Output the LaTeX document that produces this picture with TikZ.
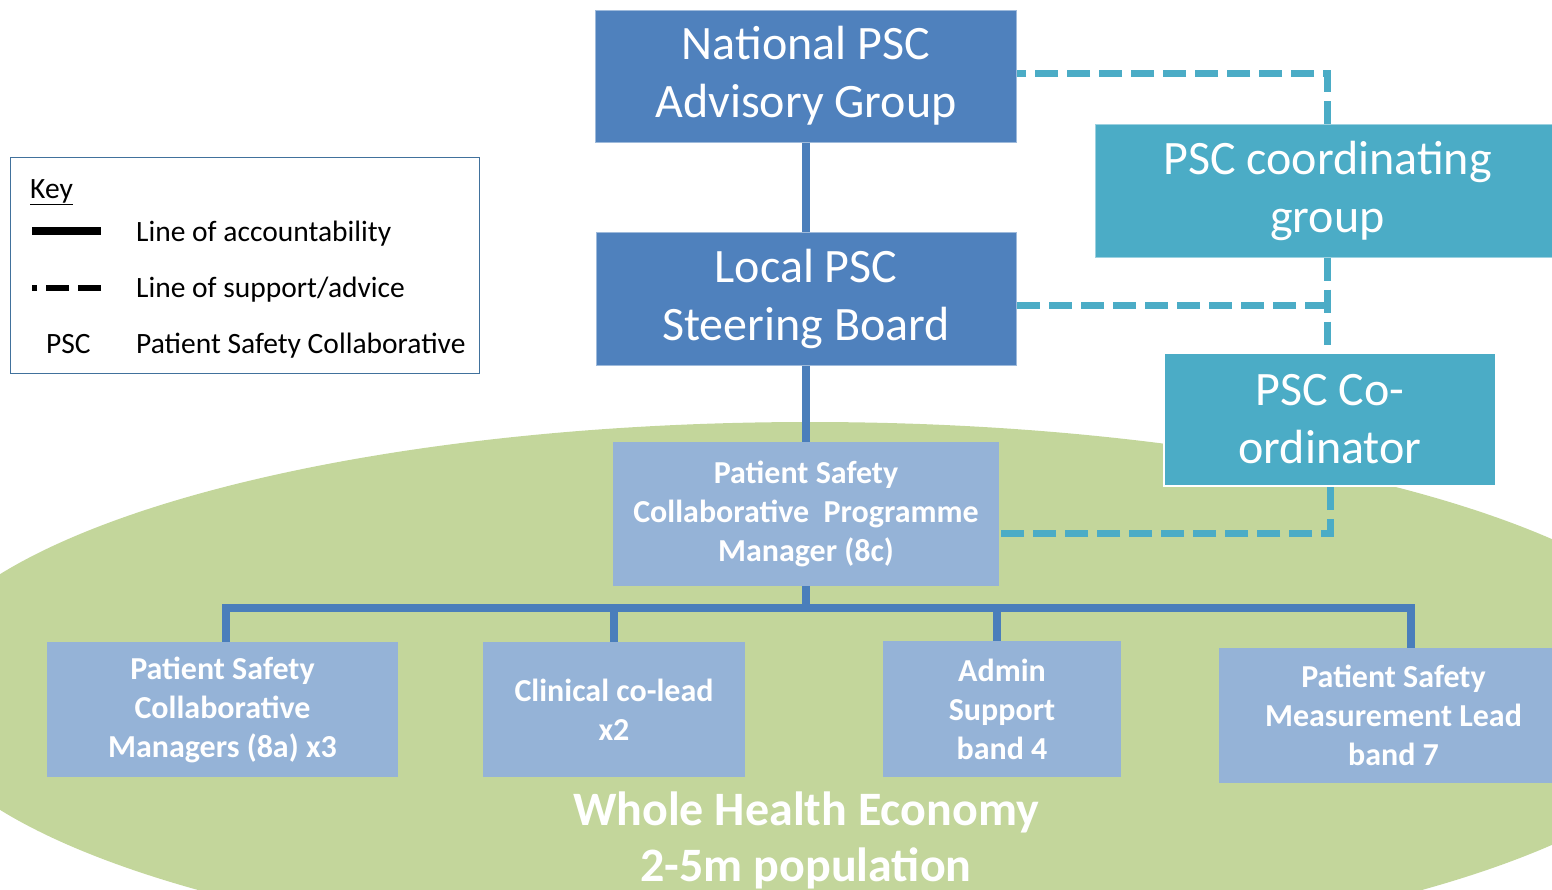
\documentclass[tikz,border=0pt]{standalone}
\usepackage{fontspec}
\setmainfont{Carlito}
\usetikzlibrary{positioning}

\definecolor{boardblue}{HTML}{4F81BD}
\definecolor{supportteal}{HTML}{4BACC6}
\definecolor{staffblue}{HTML}{95B3D7}
\definecolor{economygreen}{HTML}{C3D69B}
\definecolor{linkblue}{HTML}{4A7EBB}
\definecolor{keyframe}{HTML}{41719C}

\tikzset{
  board/.style={fill=boardblue, draw=boardblue!55, line width=1pt, text=white,
    align=center, inner sep=0pt, font=\fontsize{48}{58}\selectfont},
  coordbox/.style={board, fill=supportteal, draw=supportteal!55},
  staff/.style={fill=staffblue, text=white, align=center, inner sep=0pt,
    font=\bfseries\fontsize{32}{39}\selectfont},
  acct/.style={draw=linkblue, line width=7.5pt},
  support/.style={draw=supportteal, line width=7pt, dash pattern=on 23pt off 9pt},
  keytext/.style={anchor=base west, inner sep=0pt, font=\fontsize{29.5}{35}\selectfont},
}

\begin{document}
\begin{tikzpicture}[x=1pt, y=-1pt]
\clip (0,0) rectangle (1552,889);

% health economy
\fill[economygreen] (810,692) ellipse [x radius=900pt, y radius=270pt];

% boards
\node[board, minimum width=421pt, minimum height=132pt] (natl) at (806,76) {National PSC\\Advisory Group};
\node[board, minimum width=420pt, minimum height=133pt] (local) at (806,298.5) {Local PSC\\Steering Board};
\node[coordbox, minimum width=465pt, minimum height=133pt] (coord) at (1327.5,190.5) {PSC coordinating\\group};
\node[coordbox, draw=white, line width=2pt, minimum width=332pt, minimum height=133pt] (coordr) at (1330,419.5) {PSC Co-\\ordinator};

% programme team
\node[staff, minimum width=386pt, minimum height=144pt] (pm) at (806,514) {Patient Safety\\Collaborative~~Programme\\Manager (8c)};
\node[staff, minimum width=351pt, minimum height=135pt] (mgrs) at (222.5,709.5) {Patient Safety\\Collaborative\\Managers (8a) x3};
\node[staff, minimum width=262pt, minimum height=135pt] (lead) at (614,709.5) {Clinical co-lead\\x2};
\node[staff, minimum width=238pt, minimum height=136pt] (admin) at (1002,709) {Admin\\Support\\band 4};
\node[staff, minimum width=349pt, minimum height=135pt] (meas) at (1393.5,715.5) {Patient Safety\\Measurement Lead\\band 7};

\node[text=white, align=center, font=\bfseries\fontsize{48}{56}\selectfont] (pop) at (806,840) {Whole Health Economy\\2-5m population};

% accountability
\coordinate (bus) at (806,608);
\draw[acct] (natl) -- (local);
\draw[acct] (local) -- (pm);
\draw[acct] (pm) -- (bus);
\draw[acct] ([xshift=3.5pt]mgrs.north) |- (bus) -| ([xshift=17.5pt]meas.north);
\draw[acct] (lead) -- (lead |- bus);
\draw[acct] ([xshift=-5pt]admin.north) -- ([xshift=-5pt]admin.north |- bus);

% support / advice
\coordinate (natsup) at ([yshift=3pt]natl.east);
\coordinate (locsup) at ([yshift=-7pt]local.east);
\coordinate (pmsup) at ([yshift=-19pt]pm.east);
\draw[support] (coord) |- (natsup);
\draw[support] (coord) -- (coord |- coordr.north);
\draw[support] (coord.south |- locsup) -- (locsup);
\draw[support] (coordr) |- (pmsup);

% key
\node[draw=keyframe, line width=1pt, minimum width=469pt, minimum height=216pt, inner sep=0pt] (key) at (244.5,265) {};
\node[keytext] (keyhead) at (30,198) {\underline{Key}};
\node[keytext] (acctlbl) at (136,241) {Line of accountability};
\node[keytext] (supplbl) at (136,297) {Line of support/advice};
\node[keytext] (psc) at (46,353) {PSC};
\node[keytext] (psclbl) at (136,353) {Patient Safety Collaborative};
\draw[black, line width=8pt] (32,231) -- (101,231);
\draw[black, line width=6pt, dash pattern=on 23pt off 9pt] (101,288) -- (32,288);
\end{tikzpicture}
\end{document}
